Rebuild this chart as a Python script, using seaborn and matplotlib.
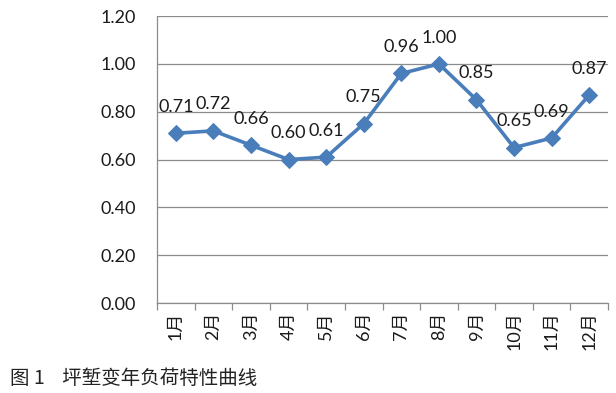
import matplotlib
matplotlib.use("Agg")
import matplotlib.pyplot as plt
import numpy as np
import pandas as pd
import seaborn as sns

# data
months = ["1月", "2月", "3月", "4月", "5月", "6月", "7月", "8月", "9月", "10月", "11月", "12月"]
load_rate = [0.71, 0.72, 0.66, 0.60, 0.61, 0.75, 0.96, 1.00, 0.85, 0.65, 0.69, 0.87]
y_ticks = [0.0, 0.2, 0.4, 0.6, 0.8, 1.0, 1.2]
caption = "图 1    坪堑变年负荷特性曲线"

sns.set_theme(style="white")
plt.rcParams["font.family"] = ["Lato", "Noto Sans CJK SC", "DejaVu Sans"]

df = pd.DataFrame({"pos": np.arange(len(months)), "month": months, "value": load_rate})

fig = plt.figure(figsize=(6.16, 3.93), dpi=100)
ax = fig.add_axes([0.255, 0.229, 0.732, 0.730])

line_color = "#4a7ebb"
grid_color = "#8c8c8c"

sns.lineplot(data=df, x="pos", y="value", ax=ax, color=line_color, linewidth=2.6,
             marker="D", markersize=8, markeredgecolor=line_color, sort=False)

# data labels above each point
for x, v in zip(df["pos"], df["value"]):
    ax.annotate(f"{v:.2f}", (x, v), xytext=(0, 19), textcoords="offset points",
                ha="center", va="center", fontsize=13, color="#1a1a1a")

ax.set_ylim(0, 1.2)
ax.set_yticks(y_ticks)
ax.set_yticklabels([f"{t:.2f}" for t in y_ticks], fontsize=13, color="#1a1a1a")
ax.yaxis.grid(True, color=grid_color, linewidth=0.9)
ax.tick_params(axis="y", length=5, width=0.9, color=grid_color, pad=10)

# category axis: boundary ticks, labels in the middle
ax.set_xlim(-0.5, len(months) - 0.5)
ax.set_xticks(np.arange(len(months) + 1) - 0.5)
ax.set_xticklabels([])
ax.set_xticks(np.arange(len(months)), minor=True)
ax.set_xticklabels(months, minor=True, rotation=90, fontsize=13, color="#1a1a1a")
ax.tick_params(axis="x", which="major", length=5, width=0.9, color=grid_color, bottom=True)
ax.tick_params(axis="x", which="minor", length=0, pad=6)

ax.set_xlabel("")
ax.set_ylabel("")
for side in ["top", "right"]:
    ax.spines[side].set_visible(False)
for side in ["left", "bottom"]:
    ax.spines[side].set_color(grid_color)
    ax.spines[side].set_linewidth(0.9)

fig.text(0.016, 0.038, caption, fontsize=14, color="#222222",
         family=["Noto Sans CJK SC", "DejaVu Sans"], ha="left", va="center")

fig.savefig("out.png", dpi=100)
